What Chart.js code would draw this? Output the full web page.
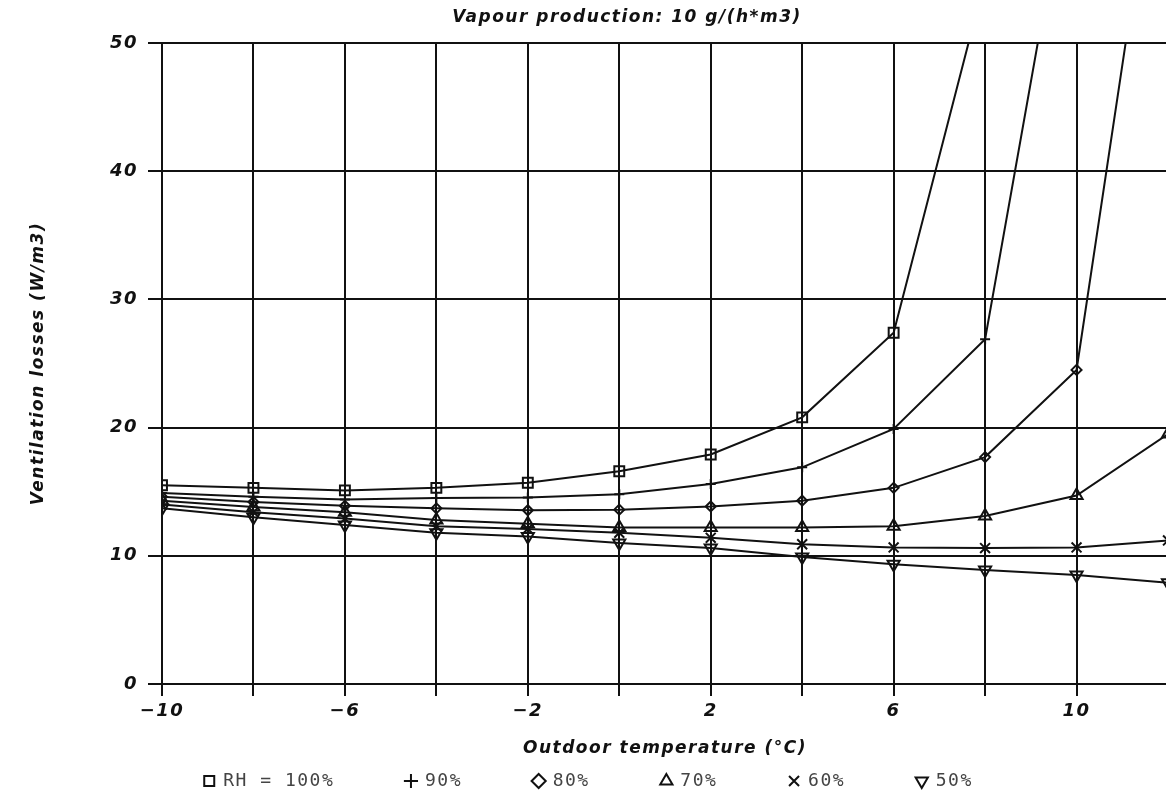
<!DOCTYPE html>
<html><head><meta charset="utf-8">
<script src="https://cdn.jsdelivr.net/npm/chart.js@4.4.0/dist/chart.umd.min.js"></script>
<style>html,body{margin:0;padding:0;background:#fff;} #wrap{position:relative;width:1166px;height:804px;overflow:hidden;}</style>
</head><body><div id="wrap"><canvas id="c" width="1177" height="804"></canvas></div>
<script>
const temps = [-10,-8,-6,-4,-2,0,2,4,6,8,10,12];
const rh100 = [15.5,15.3,15.1,15.3,15.7,16.6,17.9,20.8,27.4,55,null,null];
const rh90  = [14.9,14.6,14.4,14.5,14.55,14.8,15.6,16.9,19.9,26.9,67,null];
const rh80  = [14.6,14.2,13.9,13.7,13.55,13.6,13.85,14.3,15.3,17.7,24.5,72];
const rh70  = [14.3,13.8,13.4,12.8,12.5,12.2,12.2,12.2,12.3,13.1,14.7,19.5];
const rh60  = [14.0,13.4,12.9,12.3,12.1,11.8,11.4,10.9,10.65,10.6,10.65,11.2];
const rh50  = [13.7,13.0,12.4,11.8,11.5,11.0,10.6,9.9,9.35,8.9,8.5,7.9];
const seriesLabels = ['RH = 100%','90%','80%','70%','60%','50%'];
const xLabelTicks = [-10,-6,-2,2,6,10];
const subtitleText = 'Vapour production: 10 g/(h*m3)';
const xTitle = 'Outdoor temperature (°C)';
const yTitle = 'Ventilation losses (W/m3)';

const INK = '#111';
function pts(vals){ return temps.map((t,i)=>({x:t,y:vals[i]})); }
function ds(label, vals, style, radius, rotation){
  return {label, data: pts(vals), borderColor: INK, borderWidth: 2,
    pointStyle: style, pointRadius: radius, pointBorderWidth: 2,
    pointBorderColor: INK, pointBackgroundColor: 'rgba(0,0,0,0)',
    pointRotation: rotation || 0, tension: 0, spanGaps: false};
}
const SPACING = '1.5px';
const spacingPlugin = {
  id: 'letterSpacing',
  beforeLayout(chart){ chart.ctx.letterSpacing = SPACING; },
  beforeDraw(chart){ chart.ctx.letterSpacing = SPACING; }
};
const subtitlePlugin = {
  id: 'subtitleText',
  afterDraw(chart){
    const ctx = chart.ctx;
    ctx.save();
    ctx.letterSpacing = SPACING;
    ctx.font = 'italic bold 17px "DejaVu Sans"';
    ctx.fillStyle = INK;
    ctx.textAlign = 'center';
    ctx.textBaseline = 'middle';
    ctx.fillText(subtitleText, 627, 18);
    ctx.restore();
  }
};
const tickFont = {family: '"DejaVu Sans"', size: 18, style: 'italic', weight: 'bold'};
const titleFont = {family: '"DejaVu Sans"', size: 17, style: 'italic', weight: 'bold'};
new Chart(document.getElementById('c'), {
  type: 'line',
  data: {datasets: [
    ds(seriesLabels[0], rh100, 'rect', 7),
    ds(seriesLabels[1], rh90, 'cross', 5),
    ds(seriesLabels[2], rh80, 'rectRot', 5),
    ds(seriesLabels[3], rh70, 'triangle', 7),
    ds(seriesLabels[4], rh60, 'crossRot', 7),
    ds(seriesLabels[5], rh50, 'triangle', 7, 180)
  ]},
  options: {
    responsive: false, animation: false, devicePixelRatio: 1,
    layout: {padding: {top: 43, left: 0, right: 0, bottom: 4}},
    plugins: {
      tooltip: {enabled: false},
      legend: {position: 'bottom', align: 'center',
        labels: {usePointStyle: true, boxWidth: 10, boxHeight: 10, padding: 10,
          color: '#444', font: {family: '"DejaVu Sans Mono"', size: 18},
          generateLabels(chart){
            const items = Chart.defaults.plugins.legend.labels.generateLabels(chart);
            return items.map((it,i)=>Object.assign(it,{text: it.text + (i < items.length-1 ? '     ' : '')}));
          }}}
    },
    scales: {
      x: {type: 'linear', min: -10, max: 12,
        afterFit(s){ s.height = 78; },
        border: {color: INK, width: 2},
        grid: {color: INK, lineWidth: 2, tickLength: 12, drawTicks: true},
        ticks: {stepSize: 2, padding: 5, color: INK, font: tickFont, maxRotation: 0, autoSkip: false,
          callback(v){ return xLabelTicks.includes(v) ? (v < 0 ? '\u2212' + Math.abs(v) : String(v)) : ''; }},
        title: {display: true, text: xTitle, color: INK, padding: {top: 0, bottom: 3}, font: titleFont}
      },
      y: {min: 0, max: 50,
        afterFit(s){ s.width = 162; },
        border: {color: INK, width: 2},
        grid: {color: INK, lineWidth: 2, tickLength: 14, drawTicks: true},
        ticks: {stepSize: 10, padding: 10, color: INK, font: tickFont},
        title: {display: true, text: yTitle, color: INK, padding: {top: 28, bottom: 0}, font: titleFont}
      }
    }
  },
  plugins: [spacingPlugin, subtitlePlugin]
});
</script></body></html>
